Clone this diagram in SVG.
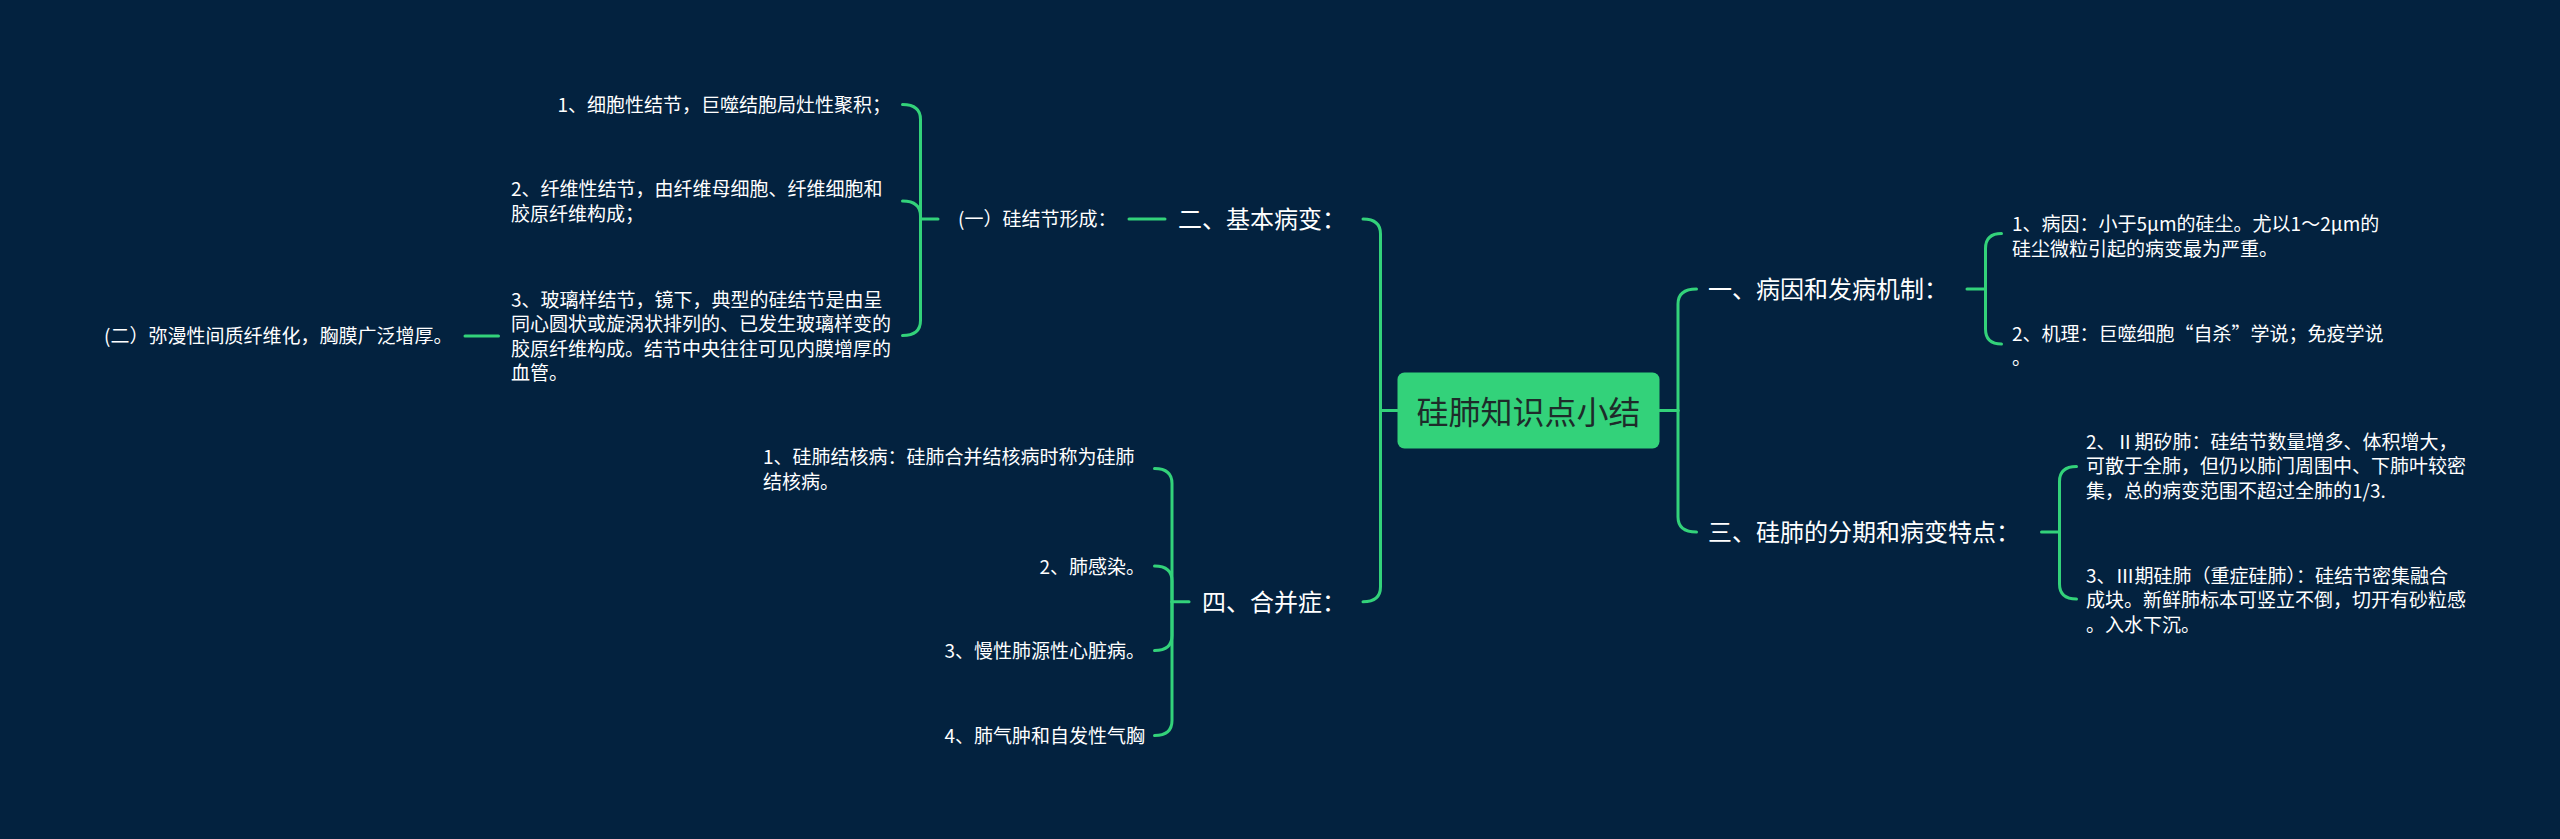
<svg xmlns="http://www.w3.org/2000/svg" width="2560" height="839" viewBox="0 0 2560 839">
<style>
.bg{fill:#03223f}
.c path{fill:none;stroke:#33d27a;stroke-width:3;stroke-linecap:round}
.t{font-family:"Noto Sans CJK SC","Noto Sans",sans-serif;fill:#ffffff}
.s{font-size:19px}
.m{font-size:24px}
.r{font-size:32px;fill:#1e2b2a}
.e{text-anchor:end}
.root{fill:#33d27a}
</style>
<rect class="bg" x="0" y="0" width="2560" height="839"/>
<g class="c" id="connectors">
<path d="M1397.5,410.5 H1380.5"/>
<path d="M1380.5,410.5 V234 Q1380.5,219 1363,219"/>
<path d="M1380.5,410.5 V586.7 Q1380.5,601.7 1363,601.7"/>
<path d="M1659.5,410.5 H1678"/>
<path d="M1678,410.5 V304 Q1678,289 1696.5,289"/>
<path d="M1678,410.5 V517 Q1678,532 1696.5,532"/>
<path d="M1967,289 H1985.5"/>
<path d="M1985.5,289 V248.5 Q1985.5,233.5 2001.5,233.5"/>
<path d="M1985.5,289 V329 Q1985.5,344 2001.5,344"/>
<path d="M2041.5,532 H2059.5"/>
<path d="M2059.5,532 V481.5 Q2059.5,466.5 2076.5,466.5"/>
<path d="M2059.5,532 V584 Q2059.5,599 2076.5,599"/>
<path d="M1165,219 H1129"/>
<path d="M938,219 H920.5"/>
<path d="M920.5,219 V119.5 Q920.5,104.5 902.5,104.5"/>
<path d="M920.5,219 V216 Q920.5,201 902.5,201"/>
<path d="M920.5,219 V320.5 Q920.5,335.5 902.5,335.5"/>
<path d="M498.5,336 H465"/>
<path d="M1189,601.7 H1172"/>
<path d="M1172,601.7 V483.5 Q1172,468.5 1154.5,468.5"/>
<path d="M1172,601.7 V581 Q1172,566 1154.5,566"/>
<path d="M1172,601.7 V635.5 Q1172,650.5 1154.5,650.5"/>
<path d="M1172,601.7 V720.5 Q1172,735.5 1154.5,735.5"/>
</g>
<g id="root">
<rect class="root" x="1397.5" y="372.5" width="262" height="76" rx="7"/>
<text class="t r" x="1528.5" y="423.5" text-anchor="middle">硅肺知识点小结</text>
</g>
<g id="n2">
<text class="t m e" x="1346" y="228.1">二、基本病变：</text>
</g>
<g id="n2-1">
<text class="t s" x="958" y="226.2">(一）硅结节形成：</text>
</g>
<g id="n2-1-1">
<text class="t s e" x="891" y="111.7">1、细胞性结节，巨噬结胞局灶性聚积；</text>
</g>
<g id="n2-1-2">
<text class="t s" x="511" y="196"><tspan x="511" y="196">2、纤维性结节，由纤维母细胞、纤维细胞和</tspan><tspan x="511" y="220.5">胶原纤维构成；</tspan></text>
</g>
<g id="n2-1-3">
<text class="t s" x="511" y="306.5"><tspan x="511" y="306.5">3、玻璃样结节，镜下，典型的硅结节是由呈</tspan><tspan x="511" y="331">同心圆状或旋涡状排列的、已发生玻璃样变的</tspan><tspan x="511" y="355.5">胶原纤维构成。结节中央往往可见内膜增厚的</tspan><tspan x="511" y="380">血管。</tspan></text>
</g>
<g id="n2-2">
<text class="t s" x="104" y="343.2">(二）弥漫性间质纤维化，胸膜广泛增厚。</text>
</g>
<g id="n4">
<text class="t m e" x="1346" y="610.8">四、合并症：</text>
</g>
<g id="n4-1">
<text class="t s" x="763" y="464.2"><tspan x="763" y="464.2">1、硅肺结核病：硅肺合并结核病时称为硅肺</tspan><tspan x="763" y="488.7">结核病。</tspan></text>
</g>
<g id="n4-2">
<text class="t s e" x="1145" y="573.7">2、肺感染。</text>
</g>
<g id="n4-3">
<text class="t s e" x="1145" y="658.2">3、慢性肺源性心脏病。</text>
</g>
<g id="n4-4">
<text class="t s e" x="1145" y="743.2">4、肺气肿和自发性气胸</text>
</g>
<g id="n1">
<text class="t m" x="1708" y="298.1">一、病因和发病机制：</text>
</g>
<g id="n1-1">
<text class="t s" x="2012" y="231"><tspan x="2012" y="231">1、病因：小于5μm的硅尘。尤以1～2μm的</tspan><tspan x="2012" y="255.5">硅尘微粒引起的病变最为严重。</tspan></text>
</g>
<g id="n1-2">
<text class="t s" x="2012" y="340.5"><tspan x="2012" y="340.5">2、机理：巨噬细胞“自杀”学说；免疫学说</tspan><tspan x="2012" y="365">。</tspan></text>
</g>
<g id="n3">
<text class="t m" x="1708" y="541.1">三、硅肺的分期和病变特点：</text>
</g>
<g id="n3-1">
<text class="t s" x="2086" y="448.7"><tspan x="2086" y="448.7">2、Ⅱ期矽肺：硅结节数量增多、体积增大，</tspan><tspan x="2086" y="473.2">可散于全肺，但仍以肺门周围中、下肺叶较密</tspan><tspan x="2086" y="497.7">集，总的病变范围不超过全肺的1/3.</tspan></text>
</g>
<g id="n3-2">
<text class="t s" x="2086" y="582.7"><tspan x="2086" y="582.7">3、Ⅲ期硅肺（重症硅肺）：硅结节密集融合</tspan><tspan x="2086" y="607.2">成块。新鲜肺标本可竖立不倒，切开有砂粒感</tspan><tspan x="2086" y="631.7">。入水下沉。</tspan></text>
</g>
</svg>
